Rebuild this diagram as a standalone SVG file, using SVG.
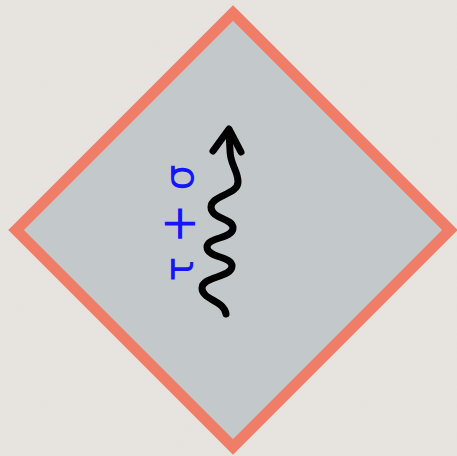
<svg xmlns="http://www.w3.org/2000/svg" width="457" height="456" viewBox="0 0 457 456">
  <style>
    .bg { fill: #E8E5E0; }
    .diamond { fill: #C3C9CA; stroke: #EF7D67; stroke-width: 11; stroke-linejoin: miter; }
    .wave { fill: none; stroke: #000; stroke-width: 7; stroke-linecap: round; stroke-linejoin: round; }
    .label { font-family: "DejaVu Sans", "Liberation Sans", sans-serif; font-size: 41px; fill: #1414FF; }
    .plus { font-size: 48px; }
  </style>
  <defs>
    <filter id="grain" x="0" y="0" width="100%" height="100%">
      <feTurbulence type="fractalNoise" baseFrequency="0.8" numOctaves="2" seed="3" result="n"/>
      <feColorMatrix type="matrix" values="0 0 0 0 0.5  0 0 0 0 0.5  0 0 0 0 0.5  0 0 0 0.06 0"/>
    </filter>
  </defs>
  <rect class="bg" x="0" y="0" width="457" height="456"/>
  <rect x="0" y="0" width="457" height="456" filter="url(#grain)"/>
  <g id="node-diamond">
    <polygon class="diamond" points="233,13 450,230 233,447 16,230"/>
  </g>
  <g id="connectors">
    <path class="wave" d="M 226,314 C 224,300 202,300 202,288 C 202,276 232,278 232,266 C 232,256 207,258 207,247 C 207,237 233,239 233,228 C 233,218 211,219 211,207 C 211,195 238,195 238,182 C 238,170 230,165 230,150 L 229,132"/>
    <polyline class="wave" points="213,151 229,129 241,152"/>
  </g>
  <g id="label">
    <text class="label" transform="translate(193,223) rotate(-90)" x="0" y="0" text-anchor="middle">τ <tspan class="plus" dy="2">+</tspan><tspan dy="-2"> σ</tspan></text>
  </g>
</svg>
